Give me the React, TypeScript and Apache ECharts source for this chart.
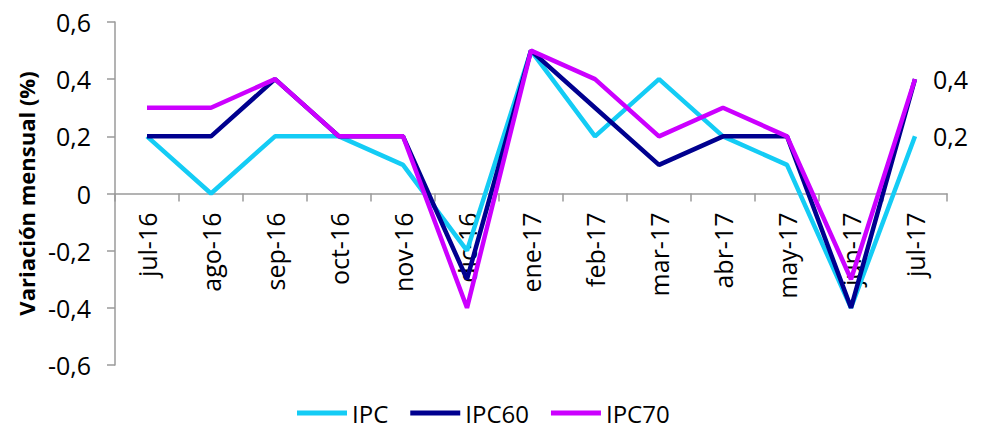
import React, { useEffect, useRef } from "react";
import * as echarts from "echarts";

const categories = ["jul-16", "ago-16", "sep-16", "oct-16", "nov-16", "dic-16", "ene-17", "feb-17", "mar-17", "abr-17", "may-17", "jun-17", "jul-17"];
const ipc = [0.2, 0.0, 0.2, 0.2, 0.1, -0.2, 0.5, 0.2, 0.4, 0.2, 0.1, -0.4, 0.2];
const ipc60 = [0.2, 0.2, 0.4, 0.2, 0.2, -0.3, 0.5, 0.3, 0.1, 0.2, 0.2, -0.4, 0.4];
const ipc70 = [0.3, 0.3, 0.4, 0.2, 0.2, -0.4, 0.5, 0.4, 0.2, 0.3, 0.2, -0.3, 0.4];

const FONT = "Open Sans";
const fmt = (v: number) => (Math.abs(v) < 1e-9 ? "0" : v.toFixed(1).replace(".", ","));

const GRID_TOP = 22;
const GRID_BOTTOM = 64;
const H = 429;

export default function App() {
  const ref = useRef<HTMLDivElement>(null);
  useEffect(() => {
    if (!ref.current) return;
    const chart = echarts.init(ref.current, null, { renderer: "svg" });
    const plotH = H - GRID_TOP - GRID_BOTTOM;
    const endLabel = {
      show: true,
      formatter: (p: any) => fmt(p.value),
      fontFamily: FONT,
      fontSize: 25,
      color: "#000",
      distance: 18,
    };
    chart.setOption({
      animation: false,
      grid: { left: 115, right: 37, top: GRID_TOP, bottom: GRID_BOTTOM, containLabel: false, outerBoundsMode: "none" },
      legend: {
        bottom: -1,
        left: 292,
        icon: "rect",
        itemWidth: 50,
        itemHeight: 5,
        itemGap: 22,
        textStyle: { fontFamily: FONT, fontSize: 24, color: "#000" },
        data: ["IPC", "IPC60", "IPC70"],
      },
      xAxis: {
        type: "category",
        data: categories,
        boundaryGap: true,
        position: "bottom",
        offset: -plotH / 2,
        axisLine: { onZero: false, lineStyle: { color: "#9a9a9a", width: 1.5 } },
        axisTick: { show: true, length: 8, lineStyle: { color: "#9a9a9a", width: 1.5 } },
        axisLabel: { rotate: 90, margin: 19, fontFamily: FONT, fontSize: 25, color: "#000", interval: 0 },
        splitLine: { show: false },
      },
      yAxis: {
        type: "value",
        min: -0.6,
        max: 0.6,
        interval: 0.2,
        name: "Variación mensual (%)",
        nameLocation: "middle",
        nameGap: 78,
        nameTextStyle: { fontFamily: FONT, fontSize: 22, fontWeight: "bold", color: "#000" },
        axisLine: { show: true, lineStyle: { color: "#9a9a9a", width: 1.5 } },
        axisTick: { show: true, length: 8, lineStyle: { color: "#9a9a9a", width: 1.5 } },
        axisLabel: { formatter: fmt, margin: 24, fontFamily: FONT, fontSize: 25, color: "#000" },
        splitLine: { show: false },
      },
      series: [
        {
          name: "IPC",
          type: "line",
          data: ipc,
          showSymbol: false,
          symbol: "none",
          lineStyle: { color: "#14CCF5", width: 4.5 },
          itemStyle: { color: "#14CCF5" },
          endLabel,
          z: 2,
        },
        {
          name: "IPC60",
          type: "line",
          data: ipc60,
          showSymbol: false,
          symbol: "none",
          lineStyle: { color: "#00008F", width: 4.5 },
          itemStyle: { color: "#00008F" },
          z: 3,
        },
        {
          name: "IPC70",
          type: "line",
          data: ipc70,
          showSymbol: false,
          symbol: "none",
          lineStyle: { color: "#CC00FF", width: 4.5 },
          itemStyle: { color: "#CC00FF" },
          endLabel,
          z: 4,
        },
      ],
    });
    return () => chart.dispose();
  }, []);
  return <div ref={ref} style={{ position: "absolute", left: 0, top: 0, width: 984, height: 429 }} />;
}
